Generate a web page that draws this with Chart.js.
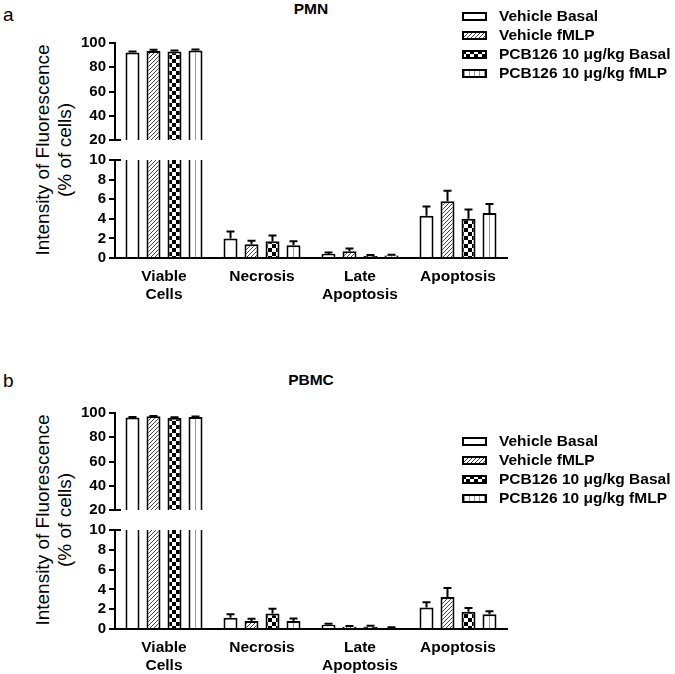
<!DOCTYPE html>
<html>
<head>
<meta charset="utf-8">
<script src="https://cdn.jsdelivr.net/npm/chart.js@4.4.1/dist/chart.umd.min.js"></script>
<style>
  body { margin: 0; background: #fff; }
  #fig { position: relative; width: 675px; height: 674px; overflow: hidden;
         font-family: "Liberation Sans", Arial, sans-serif; color: #000; }
  #fig canvas.chart { position: absolute; left: 0; }
  .txt { position: absolute; white-space: nowrap; line-height: 1; }
  .panel { font-size: 19px; }
  .title { font-size: 15.5px; font-weight: bold; transform: translateX(-50%); }
  .ytitle { position: absolute; left: -76px; width: 260px; height: 44px; line-height: 22px;
            font-size: 19px; text-align: center; white-space: nowrap; transform: rotate(-90deg); }
  .legend { position: absolute; left: 462px; }
  .legend .row { height: 19px; display: flex; align-items: center; font-size: 15.5px; font-weight: bold; white-space: nowrap; }
  .legend canvas { margin-right: 12px; }
</style>
</head>
<body>
<div id="fig">
  <div class="txt panel" style="left:3px;top:5px">a</div>
  <div class="txt title" style="left:311px;top:1px">PMN</div>
  <div class="ytitle" style="top:128px">Intensity of Fluorescence<br>(% of cells)</div>
  <div class="legend" id="legA" style="top:6.5px"></div>
  <canvas class="chart" id="aTop" width="675" height="121" style="top:31px"></canvas>
  <canvas class="chart" id="aBot" width="675" height="155" style="top:148px"></canvas>

  <div class="txt panel" style="left:3px;top:371px">b</div>
  <div class="txt title" style="left:311px;top:372px">PBMC</div>
  <div class="ytitle" style="top:498px">Intensity of Fluorescence<br>(% of cells)</div>
  <div class="legend" id="legB" style="top:431.5px"></div>
  <canvas class="chart" id="bTop" width="675" height="121" style="top:401px"></canvas>
  <canvas class="chart" id="bBot" width="675" height="156" style="top:518px"></canvas>
</div>

<script>
// categorias y series
const categories = [['Viable', 'Cells'], 'Necrosis', ['Late', 'Apoptosis'], 'Apoptosis'];
const seriesNames = ['Vehicle Basal', 'Vehicle fMLP', 'PCB126 10 μg/kg Basal', 'PCB126 10 μg/kg fMLP'];

// ejes (tramo superior e inferior del eje cortado)
const upperTicks = [20, 40, 60, 80, 100];
const lowerTicks = [0, 2, 4, 6, 8, 10];

// PMN: medias y error (SEM) por serie
const pmnVehBasal = [92.2, 2.0, 0.4, 4.3];
const pmnVehFmlp = [93.5, 1.4, 0.7, 5.8];
const pmnPcbBasal = [93.0, 1.7, 0.2, 4.0];
const pmnPcbFmlp = [93.8, 1.3, 0.25, 4.6];
const pmnVehBasalErr = [0.8, 0.7, 0.17, 0.95];
const pmnVehFmlpErr = [0.9, 0.35, 0.27, 1.05];
const pmnPcbBasalErr = [0.8, 0.6, 0.1, 0.95];
const pmnPcbFmlpErr = [0.8, 0.4, 0.07, 0.9];

// PBMC
const pbmcVehBasal = [96.3, 1.13, 0.43, 2.17];
const pbmcVehFmlp = [97.3, 0.8, 0.23, 3.23];
const pbmcPcbBasal = [96.0, 1.57, 0.23, 1.73];
const pbmcPcbFmlp = [96.8, 0.8, 0.13, 1.5];
const pbmcVehBasalErr = [0.5, 0.37, 0.1, 0.53];
const pbmcVehFmlpErr = [0.3, 0.23, 0.07, 0.9];
const pbmcPcbBasalErr = [0.5, 0.47, 0.1, 0.4];
const pbmcPcbFmlpErr = [0.3, 0.27, 0.04, 0.3];

var FONT = '"Liberation Sans", Arial, sans-serif';

//patrones de relleno
function makePattern(kind, forLegend) {
  var c = document.createElement('canvas');
  var g;
  if (kind === 'plain') {
    c.width = 2; c.height = 2; g = c.getContext('2d');
    g.fillStyle = '#fff'; g.fillRect(0, 0, 2, 2);
  } else if (kind === 'hatch') {
    c.width = 4; c.height = 4; g = c.getContext('2d');
    g.fillStyle = '#fff'; g.fillRect(0, 0, 4, 4);
    g.strokeStyle = '#444'; g.lineWidth = 1;
    g.beginPath();
    g.moveTo(-1, 5); g.lineTo(5, -1);
    g.moveTo(-1, 1); g.lineTo(1, -1);
    g.moveTo(3, 5); g.lineTo(5, 3);
    g.stroke();
  } else if (kind === 'checker') {
    c.width = 8; c.height = 8; g = c.getContext('2d');
    g.fillStyle = '#fff'; g.fillRect(0, 0, 8, 8);
    g.fillStyle = '#000';
    g.fillRect(0, 0, 4, 4); g.fillRect(4, 4, 4, 4);
  } else {
    var w = forLegend ? 5 : 14;
    c.width = w; c.height = 2; g = c.getContext('2d');
    g.fillStyle = '#fff'; g.fillRect(0, 0, w, 2);
    g.fillStyle = '#999'; g.fillRect(forLegend ? 2 : 13, 0, 1, 2);
  }
  return g.createPattern(c, 'repeat');
}

var kinds = ['plain', 'hatch', 'checker', 'vertical'];
var fills = kinds.map(function (k) { return makePattern(k, false); });

//leyenda
function buildLegend(id) {
  var box = document.getElementById(id);
  seriesNames.forEach(function (name, i) {
    var row = document.createElement('div');
    row.className = 'row';
    var sw = document.createElement('canvas');
    sw.width = 25; sw.height = 9;
    var g = sw.getContext('2d');
    g.fillStyle = makePattern(kinds[i], true);
    g.fillRect(0, 0, 25, 9);
    g.strokeStyle = '#000'; g.lineWidth = 2;
    g.strokeRect(1, 1, 23, 7);
    row.appendChild(sw);
    row.appendChild(document.createTextNode(name));
    box.appendChild(row);
  });
}

// barras de error (solo hacia arriba)
var errorBars = {
  id: 'errorBars',
  afterDatasetsDraw: function (chart) {
    var ctx = chart.ctx, y = chart.scales.y, area = chart.chartArea;
    ctx.save();
    ctx.beginPath();
    ctx.rect(area.left, area.top - 2, area.right - area.left, area.bottom - area.top + 2);
    ctx.clip();
    ctx.strokeStyle = '#000';
    ctx.lineWidth = 2;
    chart.data.datasets.forEach(function (ds, i) {
      var meta = chart.getDatasetMeta(i);
      meta.data.forEach(function (bar, j) {
        var v = ds.data[j];
        if (v === null || v > y.max) return;
        var y0 = y.getPixelForValue(v);
        var y1 = y.getPixelForValue(v + ds.errors[j]);
        ctx.beginPath();
        ctx.moveTo(bar.x, y0); ctx.lineTo(bar.x, y1);
        ctx.moveTo(bar.x - 4, y1); ctx.lineTo(bar.x + 4, y1);
        ctx.stroke();
      });
    });
    ctx.restore();
  }
};

// marca del corte del eje
var breakMark = {
  id: 'breakMark',
  afterDraw: function (chart, args, opts) {
    var ctx = chart.ctx, y = chart.scales.y;
    var py = y.getPixelForValue(opts.at === 'min' ? y.min : y.max);
    ctx.save();
    ctx.strokeStyle = '#000'; ctx.lineWidth = 2;
    ctx.beginPath();
    ctx.moveTo(y.right - 6, py); ctx.lineTo(y.right + 6, py);
    ctx.stroke();
    ctx.restore();
  }
};

function makeDatasets(means, errs, part) {
  return seriesNames.map(function (name, i) {
    var vals = means[i].map(function (v) {
      return (part === 'top' && v < upperTicks[0]) ? null : v;
    });
    return {
      label: name,
      data: vals,
      errors: errs[i],
      backgroundColor: fills[i],
      borderColor: '#000',
      borderWidth: 2,
      borderSkipped: 'start',
      clip: 0,
      categoryPercentage: 0.857,
      barPercentage: 0.667
    };
  });
}

function makeChart(id, means, errs, part) {
  var ticks = part === 'top' ? upperTicks : lowerTicks;
  return new Chart(document.getElementById(id), {
    type: 'bar',
    data: { labels: categories, datasets: makeDatasets(means, errs, part) },
    options: {
      responsive: false,
      animation: false,
      devicePixelRatio: 1,
      layout: { padding: { left: 0, right: 168, top: 10, bottom: part === 'top' ? 10 : 0 } },
      scales: {
        x: {
          display: part !== 'top',
          ticks: { color: '#000', padding: 10, maxRotation: 0, autoSkip: false,
                   font: { family: FONT, size: 15.5, weight: 'bold', lineHeight: 1.16 } },
          grid: { display: false, drawTicks: false },
          border: { color: '#000', width: 2 },
          afterFit: function (s) { if (part !== 'top') s.height = 45; }
        },
        y: {
          min: ticks[0],
          max: ticks[ticks.length - 1],
          ticks: { stepSize: ticks[1] - ticks[0], padding: 3, color: '#000', autoSkip: false,
                   font: { family: FONT, size: 15, weight: 'bold' } },
          grid: { drawOnChartArea: false, color: '#000', lineWidth: 2, tickLength: 6 },
          border: { color: '#000', width: 2 },
          afterFit: function (s) { s.width = 115; }
        }
      },
      plugins: {
        legend: { display: false },
        tooltip: { enabled: false },
        breakMark: { at: part === 'top' ? 'min' : 'max' }
      }
    },
    plugins: [errorBars, breakMark]
  });
}

function init() {
  var pmn = [pmnVehBasal, pmnVehFmlp, pmnPcbBasal, pmnPcbFmlp];
  var pmnErr = [pmnVehBasalErr, pmnVehFmlpErr, pmnPcbBasalErr, pmnPcbFmlpErr];
  var pbmc = [pbmcVehBasal, pbmcVehFmlp, pbmcPcbBasal, pbmcPcbFmlp];
  var pbmcErr = [pbmcVehBasalErr, pbmcVehFmlpErr, pbmcPcbBasalErr, pbmcPcbFmlpErr];

  makeChart('aTop', pmn, pmnErr, 'top');
  makeChart('aBot', pmn, pmnErr, 'bottom');
  makeChart('bTop', pbmc, pbmcErr, 'top');
  makeChart('bBot', pbmc, pbmcErr, 'bottom');

  buildLegend('legA');
  buildLegend('legB');
}

init();
</script>
</body>
</html>
